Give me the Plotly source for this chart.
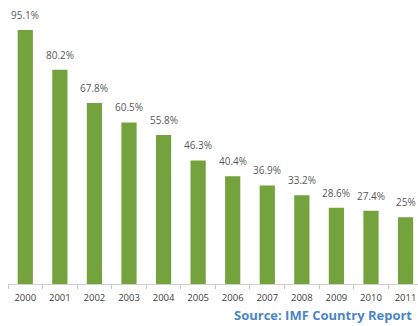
import plotly.graph_objects as go

years = ["2000", "2001", "2002", "2003", "2004", "2005",
         "2006", "2007", "2008", "2009", "2010", "2011"]
values = [95.1, 80.2, 67.8, 60.5, 55.8, 46.3, 40.4, 36.9, 33.2, 28.6, 27.4, 25]
labels = ["95.1%", "80.2%", "67.8%", "60.5%", "55.8%", "46.3%",
          "40.4%", "36.9%", "33.2%", "28.6%", "27.4%", "25%"]

bar_color = "#74a23c"
label_font = dict(family="Open Sans, sans-serif", size=10, color="#595959")

fig = go.Figure(go.Bar(
    x=years, y=values, width=0.44,
    marker=dict(color=bar_color, line=dict(width=0)),
    hoverinfo="skip",
))

# value labels above each bar (category axis positions are indices)
for i, (v, lab) in enumerate(zip(values, labels)):
    fig.add_annotation(x=i, y=v, text=lab, showarrow=False,
                       yanchor="bottom", yshift=6, font=label_font)

fig.add_annotation(
    xref="paper", yref="paper", x=0.548, y=-0.153,
    xanchor="left", yanchor="bottom", borderpad=0,
    text="<b>Source: IMF Country Report</b>", showarrow=False,
    font=dict(family="Open Sans, sans-serif", size=13, color="#4a86c8"),
)

fig.update_layout(
    width=418, height=326,
    margin=dict(l=8, r=0, t=17, b=42),
    paper_bgcolor="white", plot_bgcolor="white",
    showlegend=False,
    xaxis=dict(
        type="category", range=[-0.5, 11.36],
        showline=True, linecolor="#d0d0d0", linewidth=1,
        ticks="outside", tickson="boundaries", ticklen=4, tickcolor="#c8c8c8",
        ticklabelstandoff=5,
        tickfont=dict(family="Open Sans, sans-serif", size=9.5, color="#404040"),
        showgrid=False,
    ),
    yaxis=dict(range=[0, 100], visible=False, showgrid=False, zeroline=False),
)

fig.write_html("out.html")
